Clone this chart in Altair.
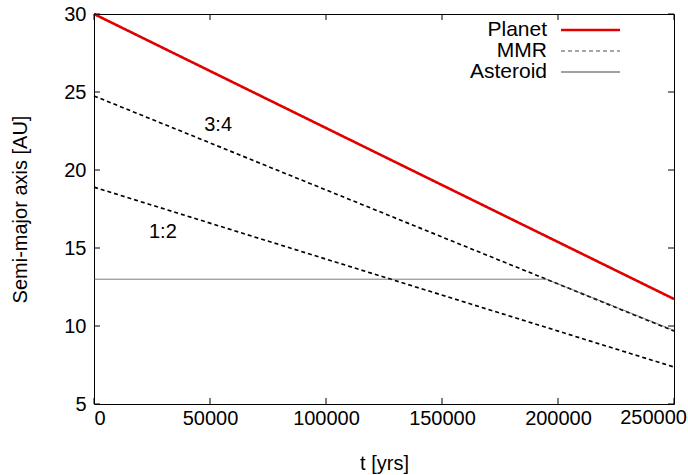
import altair as alt
import pandas as pd

# ---- data ----
planet_t = [0, 250000]
planet_a = [30.0, 11.73]
mmr34_t = [0, 250000]
mmr34_a = [24.75, 9.68]
mmr12_t = [0, 250000]
mmr12_a = [18.9, 7.37]
ast_t = [0, 195000, 250000]
ast_a = [13.0, 13.0, 9.72]

res_labels = ["3:4", "1:2"]
res_label_t = [53500, 29700]
res_label_a = [22.9, 16.0]

x_ticks = [0, 50000, 100000, 150000, 200000, 250000]
y_ticks = [5, 10, 15, 20, 25, 30]

legend_names = ["Planet", "MMR", "Asteroid"]

W, H = 580, 390
FONT = "Liberation Sans"
FS = 20

rows = []
for t, a in zip(planet_t, planet_a):
    rows.append({"t": t, "a": a, "kind": "Planet", "line": "planet"})
for t, a in zip(mmr34_t, mmr34_a):
    rows.append({"t": t, "a": a, "kind": "MMR", "line": "mmr34"})
for t, a in zip(mmr12_t, mmr12_a):
    rows.append({"t": t, "a": a, "kind": "MMR", "line": "mmr12"})
for t, a in zip(ast_t, ast_a):
    rows.append({"t": t, "a": a, "kind": "Asteroid", "line": "ast"})
df = pd.DataFrame(rows)

xscale = alt.Scale(domain=[0, 250000], nice=False, zero=False)
yscale = alt.Scale(domain=[5, 30], nice=False, zero=False)

last_x = x_ticks[-1]
xaxis = alt.Axis(title="t [yrs]", values=x_ticks, format="d",
                 labelExpr=f"datum.value == {last_x} ? '' : datum.label",
                 labelPadding=4, titleX=W / 2, titleY=65,
                 titleBaseline="alphabetic")
yaxis = alt.Axis(title="Semi-major axis [AU]", values=y_ticks,
                 labelPadding=8, titleX=-68, titleY=H / 2,
                 titleBaseline="alphabetic")

kinds = ["Planet", "MMR", "Asteroid"]
colors = ["#e00000", "#000000", "#444444"]
dashes = [[1, 0], [4, 3], [1, 0]]
widths = [2.6, 0.7, 1.1]

lines = alt.Chart(df).mark_line().encode(
    x=alt.X("t:Q", scale=xscale, axis=xaxis),
    y=alt.Y("a:Q", scale=yscale, axis=yaxis),
    color=alt.Color("kind:N", scale=alt.Scale(domain=kinds, range=colors), legend=None),
    strokeDash=alt.StrokeDash("kind:N", scale=alt.Scale(domain=kinds, range=dashes), legend=None),
    strokeWidth=alt.StrokeWidth("kind:N", scale=alt.Scale(domain=kinds, range=widths), legend=None),
    detail="line:N",
)

lab_df = pd.DataFrame({"t": res_label_t, "a": res_label_a, "label": res_labels})
labels = alt.Chart(lab_df).mark_text(font=FONT, fontSize=FS, color="black").encode(
    x=alt.X("t:Q", scale=xscale, axis=xaxis),
    y=alt.Y("a:Q", scale=yscale, axis=yaxis),
    text="label:N",
)

# last x tick label kept inside the canvas (as in the reference)
last_df = pd.DataFrame({"t": [last_x], "label": [str(last_x)]})
last_label = alt.Chart(last_df).mark_text(
    font=FONT, fontSize=FS, color="black", align="right", baseline="top", dx=13
).encode(
    x=alt.X("t:Q", scale=xscale, axis=xaxis),
    y=alt.value(H + 4),
    text="label:N",
)

xt = pd.DataFrame({"t": x_ticks})
yt = pd.DataFrame({"a": y_ticks})
tick_len = 6
xb = alt.Chart(xt).mark_rule(color="black", strokeWidth=1).encode(
    x=alt.X("t:Q", scale=xscale, axis=xaxis), y=alt.value(H), y2=alt.value(H - tick_len))
xtp = alt.Chart(xt).mark_rule(color="black", strokeWidth=1).encode(
    x=alt.X("t:Q", scale=xscale, axis=xaxis), y=alt.value(0), y2=alt.value(tick_len))
yl = alt.Chart(yt).mark_rule(color="black", strokeWidth=1).encode(
    y=alt.Y("a:Q", scale=yscale, axis=yaxis), x=alt.value(0), x2=alt.value(tick_len))
yr = alt.Chart(yt).mark_rule(color="black", strokeWidth=1).encode(
    y=alt.Y("a:Q", scale=yscale, axis=yaxis), x=alt.value(W), x2=alt.value(W - tick_len))

# manual gnuplot-style legend (label left, sample right)
leg_layers = []
row_y = [16, 37, 58]
for name, ry, c, d, w in zip(legend_names, row_y, colors, dashes, widths):
    ldf = pd.DataFrame({"label": [name]})
    leg_layers.append(
        alt.Chart(ldf).mark_text(font=FONT, fontSize=21, align="right", baseline="middle",
                                 color="black").encode(
            text="label:N", x=alt.value(453), y=alt.value(ry)))
    leg_layers.append(
        alt.Chart(ldf).mark_rule(color=c, strokeDash=d, strokeWidth=w).encode(
            x=alt.value(467), x2=alt.value(526), y=alt.value(ry)))

chart = alt.layer(lines, labels, last_label, xb, xtp, yl, yr, *leg_layers).properties(
    width=W, height=H,
    autosize=alt.AutoSizeParams(type="none"),
    padding={"left": 94, "top": 14, "right": 14, "bottom": 71},
    background="white",
).configure_view(
    stroke="black", strokeWidth=1
).configure_axis(
    domain=False, ticks=False, grid=False,
    labelFont=FONT, labelFontSize=FS, labelColor="black",
    titleFont=FONT, titleFontSize=FS, titleColor="black", titleFontWeight="normal",
)

chart.save("out.html", embed_options={"renderer": "svg", "actions": False})
